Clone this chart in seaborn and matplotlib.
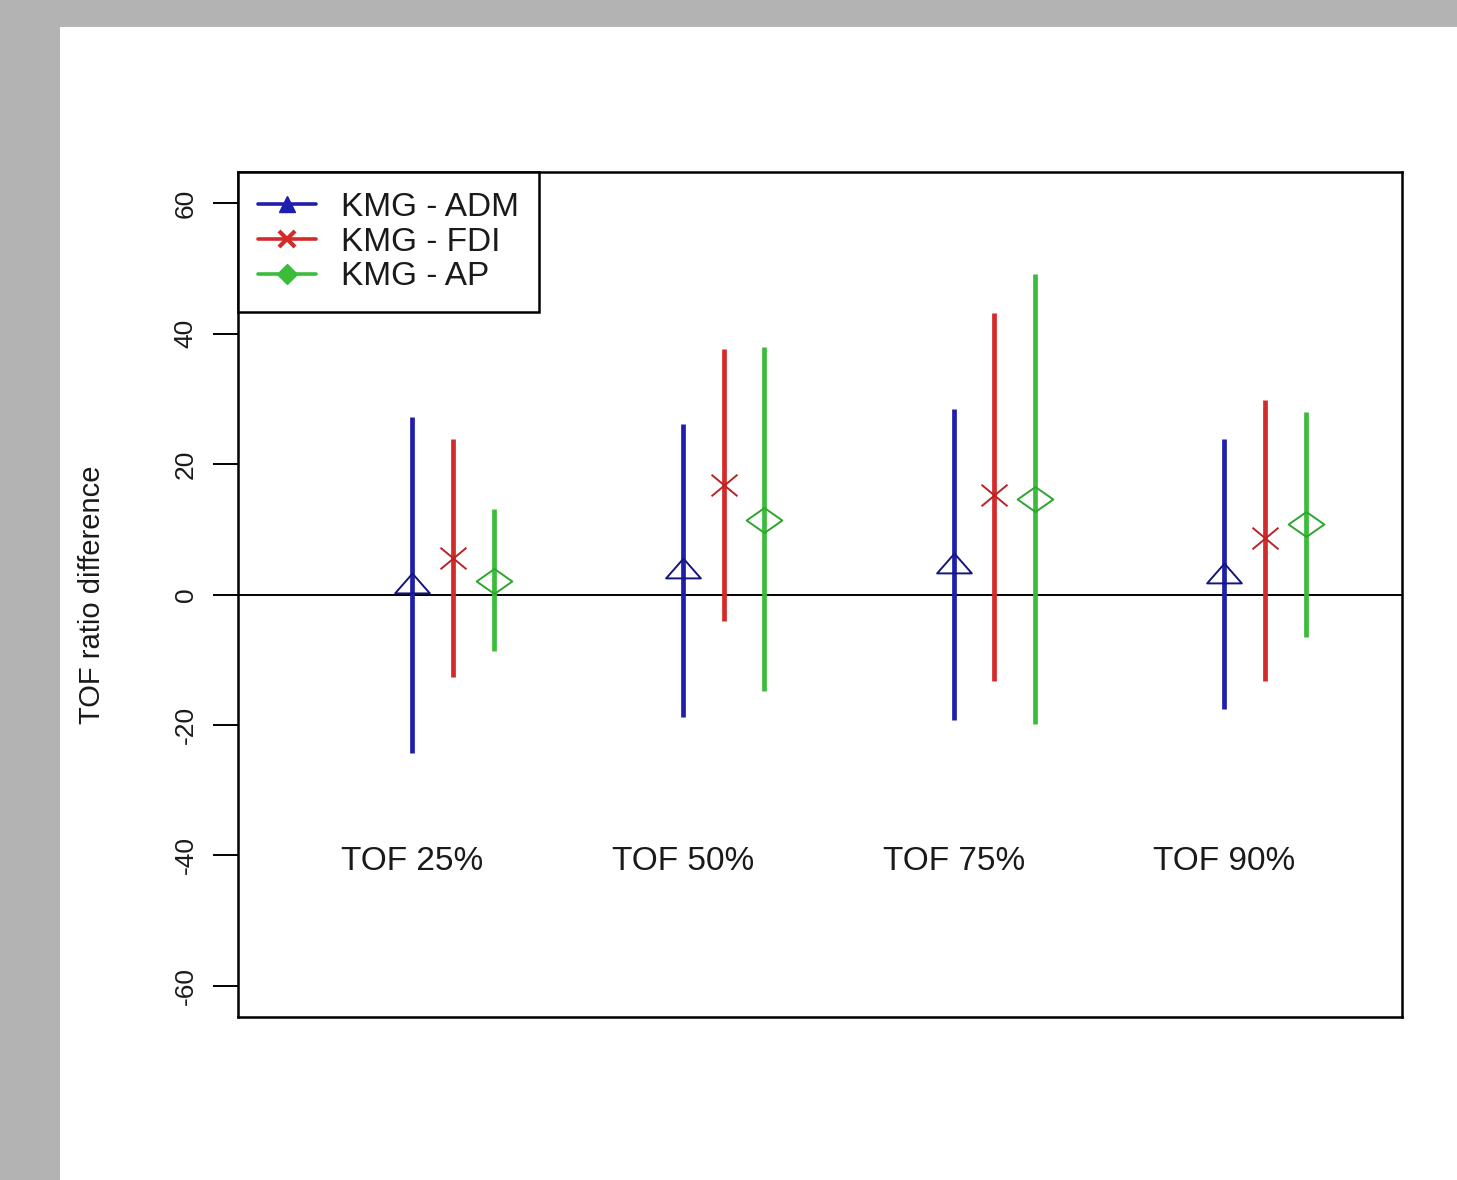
import numpy as np
import pandas as pd
import matplotlib
matplotlib.use("Agg")
import matplotlib.pyplot as plt
import seaborn as sns
from matplotlib.path import Path
from matplotlib.lines import Line2D
from matplotlib.patches import Rectangle

# ---------------- data ----------------
groups = ["TOF 25%", "TOF 50%", "TOF 75%", "TOF 90%"]
series = ["KMG - ADM", "KMG - FDI", "KMG - AP"]

adm_mid = [1.7, 4.0, 4.9, 3.3]
adm_lo = [-24.3, -18.8, -19.2, -17.6]
adm_hi = [27.2, 26.1, 28.4, 23.8]

fdi_mid = [5.6, 16.8, 15.3, 8.6]
fdi_lo = [-12.7, -4.1, -13.2, -13.2]
fdi_hi = [23.9, 37.7, 43.2, 29.8]

ap_mid = [2.1, 11.5, 14.6, 10.8]
ap_lo = [-8.7, -14.8, -19.8, -6.5]
ap_hi = [13.1, 38.0, 49.2, 28.0]

yticks = [-60, -40, -20, 0, 20, 40, 60]
ylabel = "TOF ratio difference"

# ---------------- style ----------------
colors = ["#1f1fae", "#d32a2a", "#3bbd3b"]
edge_colors = ["#15157e", "#b82424", "#2ea52e"]

sns.set_style("ticks")
plt.rcParams["font.family"] = ["Liberation Sans", "DejaVu Sans"]

rows = []
for name, lo, mid, hi in zip(series, [adm_lo, fdi_lo, ap_lo],
                             [adm_mid, fdi_mid, ap_mid],
                             [adm_hi, fdi_hi, ap_hi]):
    for g, l, m, h in zip(groups, lo, mid, hi):
        for v in (l, m, h):
            rows.append({"group": g, "series": name, "value": v})
df = pd.DataFrame(rows)

M, L, C = Path.MOVETO, Path.LINETO, Path.CLOSEPOLY
tri = Path([(-1, -0.57), (1, -0.57), (0, 0.57), (-1, -0.57)], [M, L, L, C])
xm = Path([(-1, -0.83), (1, 0.83), (-1, 0.83), (1, -0.83)], [M, L, M, L])
dia = Path([(-1, 0), (0, 0.7), (1, 0), (0, -0.7), (-1, 0)], [M, L, L, L, C])
marker_paths = [tri, xm, dia]
marker_sizes = [25.0, 18.7, 25.7]

fig = plt.figure(figsize=(14.57, 11.8), dpi=100, facecolor="#b3b3b3")
fig.patches.append(Rectangle((60 / 1457, 0), 1 - 60 / 1457, 1 - 27 / 1180,
                             transform=fig.transFigure, facecolor="white",
                             edgecolor="none", zorder=-10))
ax = fig.add_axes([238 / 1457, 1 - 1017 / 1180, (1402 - 238) / 1457, (1017 - 172) / 1180])
ax.set_facecolor("white")

ax.axhline(0, color="black", lw=1.4, zorder=1)

sns.pointplot(data=df, x="group", y="value", hue="series", order=groups,
              hue_order=series, estimator="median", errorbar=("pi", 100),
              dodge=0.3, linestyle="none", markers=marker_paths,
              palette=colors, err_kws={"linewidth": 3.4, "solid_capstyle": "butt"},
              legend=False, ax=ax)

k = 0
for line in ax.lines:
    mk = line.get_marker()
    if isinstance(mk, str) and mk in ("None", "none", "", " "):
        continue
    if mk is None:
        continue
    line.set_markerfacecolor("none")
    line.set_markeredgecolor(edge_colors[k])
    line.set_markersize(marker_sizes[k])
    line.set_markeredgewidth(1.4)
    line.set_zorder(3)
    k += 1

dodge_offset = 0.15
for i, g in enumerate(groups):
    ax.text(i - dodge_offset, -41.0, g, ha="center", va="center", fontsize=24, color="#1a1a1a")

ax.set_xlim(-0.794, 3.506)
ax.set_ylim(-64.8, 64.8)
ax.set_xticks([])
ax.set_xlabel("")
ax.set_yticks(yticks)
ax.set_yticklabels([str(t) for t in yticks], rotation=90, va="center", fontsize=19)
ax.tick_params(axis="y", length=18, width=1.4, pad=11, color="black", labelcolor="#1a1a1a")
ax.set_ylabel(ylabel, fontsize=21, color="#1a1a1a")
ax.yaxis.set_label_coords(-0.113, 0.5)
for sp in ax.spines.values():
    sp.set_visible(True)
    sp.set_color("black")
    sp.set_linewidth(1.8)

handles = [
    Line2D([0], [0], color=colors[0], lw=2.6, marker="^", ms=12, mfc=colors[0], mec=colors[0]),
    Line2D([0], [0], color=colors[1], lw=2.6, marker="x", ms=11, mew=3, mec=colors[1]),
    Line2D([0], [0], color=colors[2], lw=2.6, marker="D", ms=10, mfc=colors[2], mec=colors[2]),
]
leg = ax.legend(handles, series, loc="upper left", bbox_to_anchor=(0, 1),
                borderaxespad=0, fontsize=24, frameon=True, fancybox=False,
                edgecolor="black", framealpha=1, handlelength=1.75,
                handletextpad=0.75, labelspacing=0.11, borderpad=0.6)
leg.get_frame().set_linewidth(1.8)
for t in leg.get_texts():
    t.set_color("#1a1a1a")

fig.savefig("out.png", dpi=100, facecolor=fig.get_facecolor())
